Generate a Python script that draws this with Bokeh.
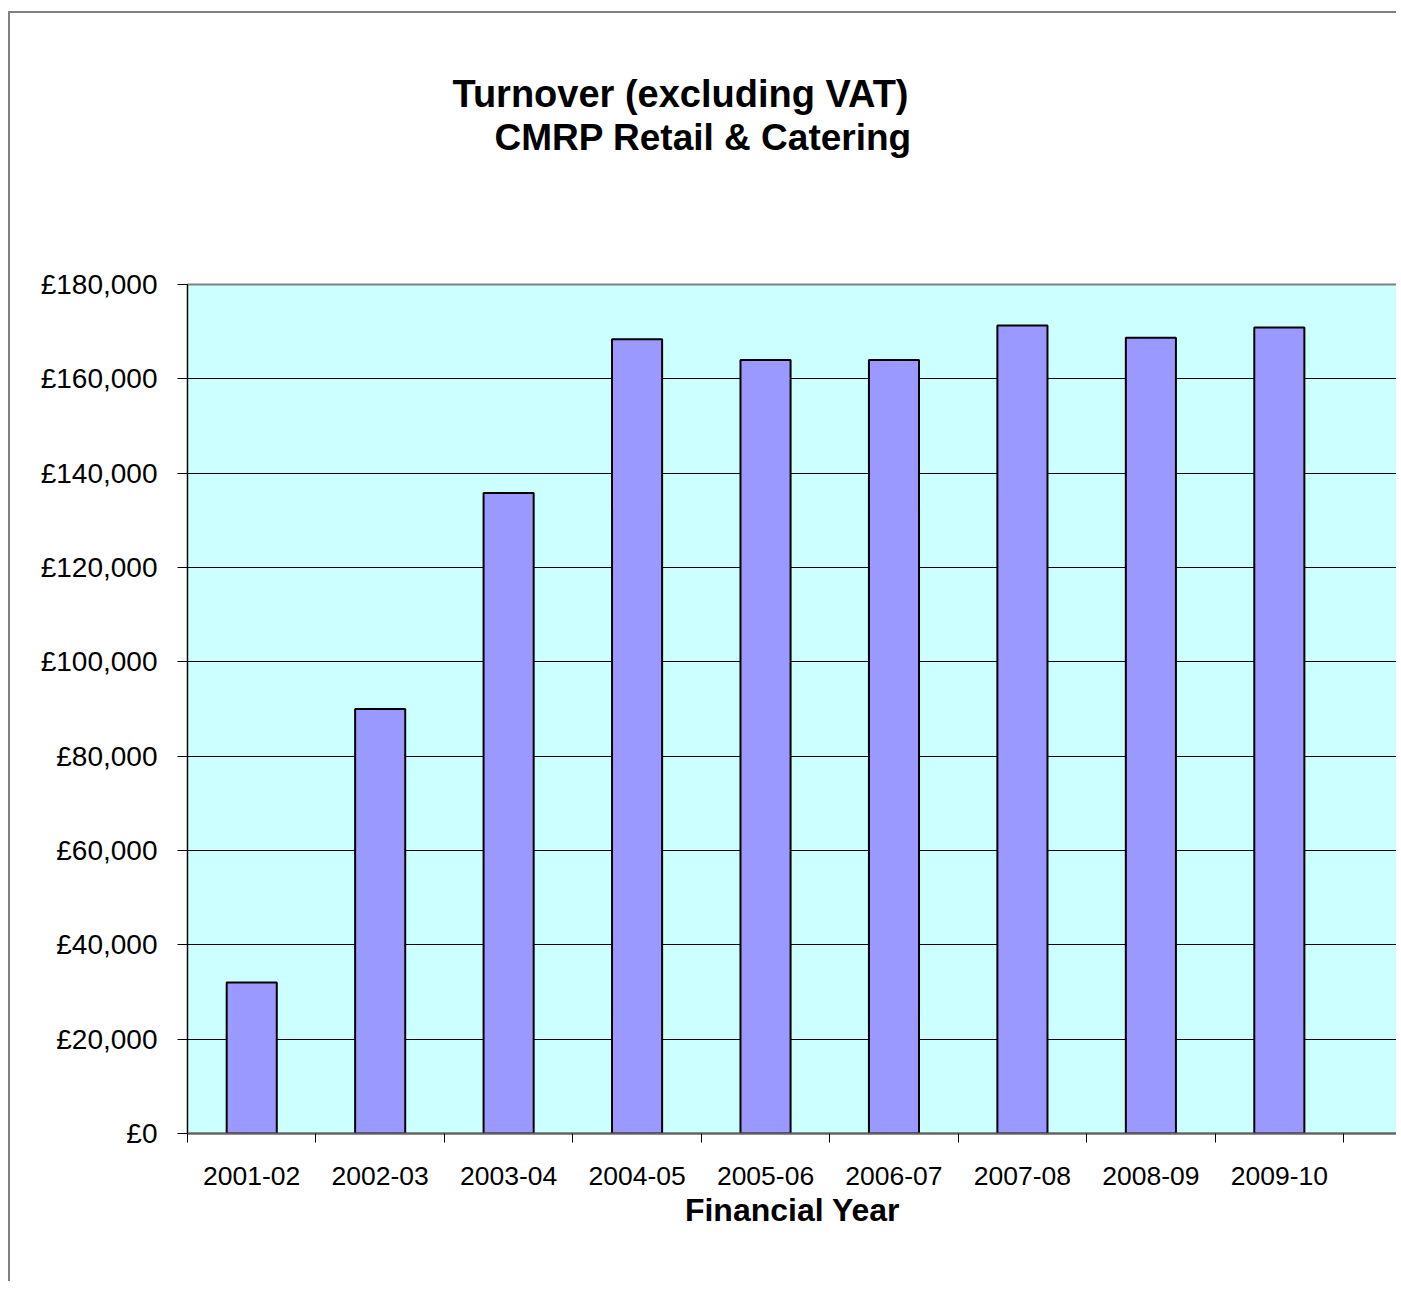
from bokeh.plotting import figure
from bokeh.models import Range1d, FixedTicker, Title
from bokeh.embed import file_html
from bokeh.resources import INLINE

# ---- data ----
years = ["2001-02", "2002-03", "2003-04", "2004-05", "2005-06",
         "2006-07", "2007-08", "2008-09", "2009-10"]
turnover = [32000, 90000, 135800, 168400, 164000, 164000, 171300, 168700, 170900]
y_ticks = [0, 20000, 40000, 60000, 80000, 100000, 120000, 140000, 160000, 180000]

title_line1 = "Turnover (excluding VAT)"
title_line2 = "CMRP Retail & Catering"
x_title = "Financial Year"

FONT = "Liberation Sans"

idx = list(range(len(years)))
centers = [i + 0.5 for i in idx]
bounds = list(range(len(years) + 1))

p = figure(width=1388, height=1270, output_backend="svg", toolbar_location=None,
           x_range=Range1d(0, 9.42), y_range=Range1d(0, 180000),
           min_border_left=177, min_border_top=271, min_border_right=1,
           min_border_bottom=150)
p.title = None
p.styles = {"border-left": "2px solid #808080", "border-top": "2px solid #808080",
            "margin-left": "8px", "margin-top": "11px"}

p.background_fill_color = "#CCFFFF"
p.border_fill_color = "white"
p.outline_line_color = "#808080"
p.outline_line_width = 2

p.vbar(x=centers, top=turnover, width=0.39, bottom=0,
       fill_color="#9999FF", line_color="black", line_width=2)

# grid
p.xgrid.visible = False
p.ygrid.ticker = FixedTicker(ticks=y_ticks)
p.ygrid.grid_line_color = "black"
p.ygrid.grid_line_width = 1

# y axis
p.yaxis.ticker = FixedTicker(ticks=y_ticks)
p.yaxis.major_label_overrides = {v: f"£{v:,}" for v in y_ticks}
p.yaxis.major_label_text_font = FONT
p.yaxis.major_label_text_font_size = "28px"
p.yaxis.major_label_text_color = "black"
p.yaxis.major_tick_out = 10
p.yaxis.major_tick_in = 0
p.yaxis.minor_tick_line_color = None
p.yaxis.axis_line_color = "black"
p.yaxis.major_tick_line_color = "black"
p.yaxis.major_label_standoff = 20

# x axis
p.xaxis.ticker = FixedTicker(ticks=centers, minor_ticks=bounds)
p.xaxis.major_label_overrides = {c: y for c, y in zip(centers, years)}
p.xaxis.major_tick_out = 0
p.xaxis.major_tick_in = 0
p.xaxis.minor_tick_out = 9
p.xaxis.minor_tick_in = 0
p.xaxis.minor_tick_line_color = "black"
p.xaxis.axis_line_color = "#606060"
p.xaxis.axis_line_width = 2
p.xaxis.major_label_text_font = FONT
p.xaxis.major_label_text_font_size = "26.5px"
p.xaxis.major_label_text_color = "black"
p.xaxis.major_label_standoff = 24
p.xaxis.axis_label = x_title
p.xaxis.axis_label_text_font = FONT
p.xaxis.axis_label_text_font_size = "32px"
p.xaxis.axis_label_text_font_style = "bold"
p.xaxis.axis_label_text_color = "black"
p.xaxis.axis_label_standoff = 4

# titles (spacer keeps the two title lines well above the frame)
spacer = Title(text=" ", text_font_size="1px", standoff=124)
t2 = Title(text=title_line2, align="left", offset=307, text_font=FONT,
           text_font_size="37px", text_font_style="bold", text_color="black",
           standoff=0)
t1 = Title(text=title_line1, align="left", offset=265, text_font=FONT,
           text_font_size="38px", text_font_style="bold", text_color="black",
           standoff=0)
p.add_layout(spacer, "above")
p.add_layout(t2, "above")
p.add_layout(t1, "above")

open("out.html", "w").write(file_html(p, INLINE))
